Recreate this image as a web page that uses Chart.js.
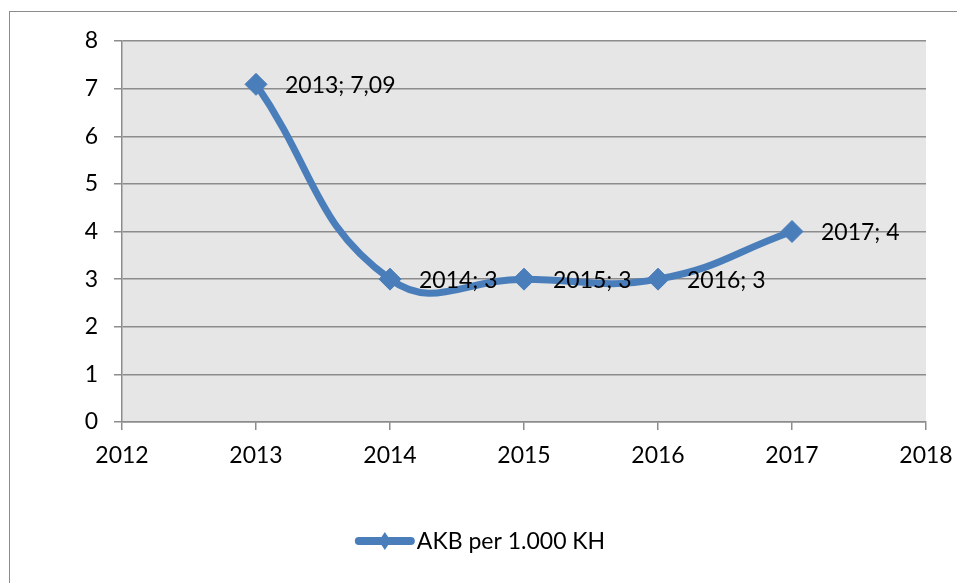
<!DOCTYPE html>
<html>
<head>
<meta charset="utf-8">
<script src="https://cdn.jsdelivr.net/npm/chart.js@4.4.1/dist/chart.umd.min.js"></script>
<style>
    html, body { margin: 0; padding: 0; background: #fff; overflow: hidden; }
    #wrap { position: relative; width: 957px; height: 583px; }
    #frame {
        position: absolute; left: 9px; top: 11px; width: 1000px; height: 700px;
        border: 1px solid #8c8c8c; box-sizing: border-box;
    }
    #chart { position: absolute; left: 0; top: 0; }
</style>
</head>
<body>
<div id="wrap">
    <div id="frame"></div>
    <canvas id="chart" width="957" height="583"></canvas>
</div>
<script>
// ============================================================================
// DATA
// ============================================================================

const seriesLabel = 'AKB per 1.000 KH';
const years = [2013, 2014, 2015, 2016, 2017];
const values = [7.09, 3, 3, 3, 4];

const xMin = 2012, xMax = 2018;
const yMin = 0, yMax = 8;

const lineColor = '#4a7ebb';
const gridColor = '#8c8c8c';
const fontFamily = 'Lato';
const fontSize = 23;

// ============================================================================
// PLUGINS
// ============================================================================

const plotBackground = {
    id: 'plotBackground',
    beforeDraw(chart) {
        const a = chart.chartArea;
        const ctx = chart.ctx;
        ctx.save();
        ctx.fillStyle = '#e6e6e6';
        ctx.fillRect(a.left, a.top, a.right - a.left, a.bottom - a.top);
        ctx.restore();
    }
};

// "2013; 7,09" style labels on the right of each point
const pointLabels = {
    id: 'pointLabels',
    afterDatasetsDraw(chart) {
        const ctx = chart.ctx;
        const meta = chart.getDatasetMeta(0);
        ctx.save();
        ctx.font = fontSize + 'px ' + fontFamily;
        ctx.fillStyle = '#000';
        ctx.textBaseline = 'middle';
        ctx.textAlign = 'left';
        meta.data.forEach((pt, i) => {
            const txt = years[i] + '; ' + String(values[i]).replace('.', ',');
            ctx.fillText(txt, pt.x + 29, pt.y + 1);
        });
        ctx.restore();
    }
};

// Excel-like legend: line with a diamond, then the label
const bottomLegend = {
    id: 'bottomLegend',
    afterDraw(chart) {
        const ctx = chart.ctx;
        ctx.save();
        ctx.font = fontSize + 'px ' + fontFamily;
        const textW = ctx.measureText(seriesLabel).width;
        const lineW = 58;
        const total = lineW + 3 + textW;
        const x0 = chart.width / 2 - total / 2 + 2;
        const y = 541;

        ctx.strokeStyle = lineColor;
        ctx.lineWidth = 8;
        ctx.lineCap = 'round';
        ctx.beginPath();
        ctx.moveTo(x0 + 3, y);
        ctx.lineTo(x0 + lineW - 3, y);
        ctx.stroke();

        const cx = x0 + lineW / 2;
        ctx.fillStyle = lineColor;
        ctx.beginPath();
        ctx.moveTo(cx - 6, y);
        ctx.lineTo(cx, y - 9);
        ctx.lineTo(cx + 6, y);
        ctx.lineTo(cx, y + 9);
        ctx.closePath();
        ctx.fill();

        ctx.fillStyle = '#000';
        ctx.textBaseline = 'middle';
        ctx.fillText(seriesLabel, x0 + lineW + 3, y + 1);
        ctx.restore();
    }
};

// ============================================================================
// CHART
// ============================================================================

Chart.defaults.font.family = fontFamily;
Chart.defaults.font.size = fontSize;
Chart.defaults.color = '#000';

new Chart(document.getElementById('chart'), {
    type: 'scatter',
    data: {
        datasets: [{
            label: seriesLabel,
            data: years.map((y, i) => ({ x: y, y: values[i] })),
            showLine: true,
            borderColor: lineColor,
            backgroundColor: lineColor,
            borderWidth: 7,
            tension: 0.45,
            pointStyle: 'rectRot',
            pointRadius: 11,
            pointBorderWidth: 1,
            pointBackgroundColor: lineColor,
            pointBorderColor: lineColor
        }]
    },
    options: {
        responsive: false,
        animation: false,
        layout: { padding: { top: 41, right: 31, left: 0, bottom: 0 } },
        plugins: {
            legend: { display: false },
            tooltip: { enabled: false }
        },
        scales: {
            x: {
                type: 'linear',
                min: xMin,
                max: xMax,
                afterFit: function(scale) {
                    scale.height = 161;
                    scale.paddingLeft = 0;
                    scale.paddingRight = 0;
                },
                ticks: {
                    stepSize: 1,
                    padding: 12,
                    maxRotation: 0,
                    callback: function(v) { return String(v); }
                },
                grid: {
                    drawOnChartArea: false,
                    drawTicks: true,
                    tickLength: 8,
                    color: gridColor,
                    lineWidth: 1.5
                },
                border: { color: gridColor, width: 1.5 }
            },
            y: {
                min: yMin,
                max: yMax,
                afterFit: function(scale) {
                    scale.width = 122;
                    scale.paddingTop = 0;
                    scale.paddingBottom = 0;
                },
                ticks: {
                    stepSize: 1,
                    padding: 16
                },
                grid: {
                    color: gridColor,
                    lineWidth: 1.5,
                    tickLength: 8
                },
                border: { color: gridColor, width: 1.5 }
            }
        }
    },
    plugins: [plotBackground, pointLabels, bottomLegend]
});
</script>
</body>
</html>
